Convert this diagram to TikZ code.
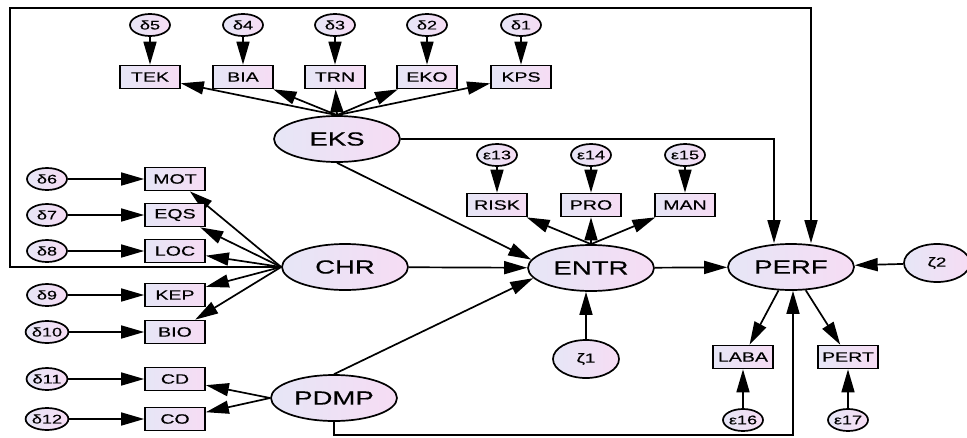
\documentclass[tikz,border=0pt]{standalone}
\usepackage{fontspec}
\setmainfont[FakeStretch=1.45,FakeBold=0.4]{Liberation Sans}
\usetikzlibrary{arrows.meta,shapes.geometric}

\definecolor{lavL}{HTML}{E6E6F6}
\definecolor{lavR}{HTML}{F6DCF4}

\tikzset{
  base/.style={draw, line width=1.7pt, left color=lavL, right color=lavR, inner sep=0pt},
  latent/.style={base, ellipse, minimum width=126pt, minimum height=46pt, font=\fontsize{19pt}{20pt}\selectfont},
  obs/.style={base, rectangle, minimum width=60pt, minimum height=23pt, font=\fontsize{13.5pt}{14pt}\selectfont},
  err/.style={base, ellipse, minimum width=40pt, minimum height=22pt, font=\fontsize{12.5pt}{13pt}\selectfont},
  dist/.style={base, ellipse, minimum width=66pt, minimum height=38pt, font=\fontsize{13pt}{13pt}\selectfont},
  path/.style={line width=1.7pt, -{Triangle[length=23pt,width=13pt]}},
}

\begin{document}
\begin{tikzpicture}[x=1pt,y=-1pt]
    \useasboundingbox (0,0) rectangle (967,437);
    % 潜变量
    \node[latent] (eks)  at (337,139) {EKS};
    \node[latent] (chr)  at (345,267) {CHR};
    \node[latent] (pdmp) at (334,398) {PDMP};
    \node[latent] (entr) at (591,268) {ENTR};
    \node[latent] (perf) at (791,267) {PERF};
    \node[dist] (z1) at (586,359) {ζ1};
    \node[dist] (z2) at (937,263) {ζ2};
    % EKS 的指标
    \foreach \nm/\lb/\x/\d in {tek/TEK/150/5, bia/BIA/243/4, trn/TRN/335/3, eko/EKO/427/2, kps/KPS/521/1}{
        \node[obs] (\nm) at (\x,77) {\lb};
        \node[err] (d\d) at (\x,25) {δ\d};
        \draw[path] (d\d) -- (\nm);
        \draw[path] (eks.north) -- (\nm);
    }
    % CHR 与 PDMP 的指标
    \foreach \nm/\lb/\y/\d/\src in {mot/MOT/179/6/chr, eqs/EQS/215/7/chr, loc/LOC/251/8/chr, kep/KEP/295/9/chr, bio/BIO/332/10/chr, cd/CD/379/11/pdmp, co/CO/419/12/pdmp}{
        \node[obs] (\nm) at (175,\y) {\lb};
        \node[err] (d\d) at (47,\y) {δ\d};
        \draw[path] (d\d) -- (\nm);
        \draw[path] (\src.west) -- (\nm);
    }
    % ENTR 的指标
    \foreach \nm/\lb/\x/\d in {risk/RISK/497/13, pro/PRO/591/14, man/MAN/685/15}{
        \node[obs] (\nm) at (\x,205) {\lb};
        \node[err] (e\d) at (\x,155) {ε\d};
        \draw[path] (e\d) -- (\nm);
        \draw[path] (entr.north) -- (\nm);
    }
    % PERF 的指标
    \foreach \nm/\lb/\x/\d in {laba/LABA/743/16, pert/PERT/848/17}{
        \node[obs] (\nm) at (\x,357) {\lb};
        \node[err] (e\d) at (\x,420) {ε\d};
        \draw[path] (e\d) -- (\nm);
        \draw[path] (perf) -- (\nm);
    }
    % 结构路径
    \draw[path] (chr) -- (entr);
    \draw[path] (entr) -- (perf);
    \draw[path] (z2) -- (perf);
    \draw[path] (z1) -- (z1 |- entr.south);
    \draw[path] (eks.south) -- (entr.172);
    \draw[path] (pdmp.north) -- (entr.190);
    \draw[path] (eks.east) -| ([xshift=-17pt]perf.north);
    \coordinate (cL) at (10,267);
    \coordinate (cT) at (811,8);
    \draw[path] (chr.west) -- (cL) |- (cT) -- (cT |- perf.north); % 外框路径
    \draw[path] (pdmp.south) -- ++(0,13) -| ([xshift=2pt]perf.south);
\end{tikzpicture}
\end{document}
